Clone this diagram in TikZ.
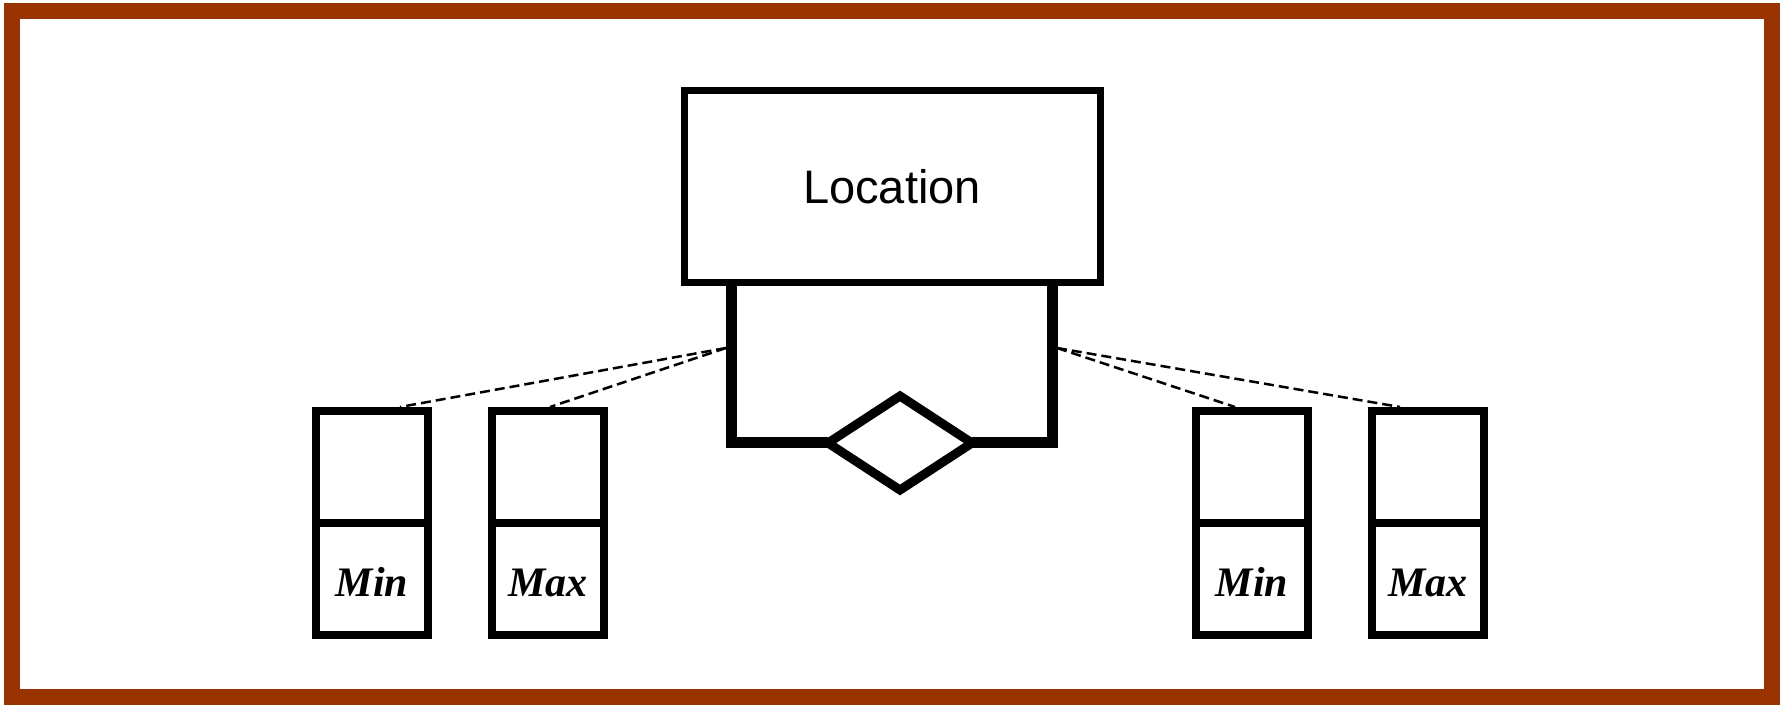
\documentclass[tikz,border=0pt]{standalone}
\usepackage{fontspec}
\setmainfont{Liberation Serif}
\newfontfamily\locfont{Liberation Sans}
\usetikzlibrary{positioning,shapes.geometric,calc}
\definecolor{framebrown}{RGB}{153,51,0}

\begin{document}
\begin{tikzpicture}[x=1pt,y=1pt,
    entity/.style={draw,line width=7pt,minimum width=416pt,minimum height=192pt,inner sep=0pt,
      font=\locfont\fontsize{47}{50}\selectfont},
    relship/.style={diamond,draw,line width=9pt,minimum width=144pt,minimum height=94pt,
      inner sep=0pt,outer sep=0pt},
    cell/.style={draw,line width=8pt,minimum size=112pt,inner sep=0pt,outer sep=0pt,
      text height=36pt,text depth=0pt,font=\fontsize{42}{44}\selectfont\bfseries\itshape},
    link/.style={line width=11pt},
    dep/.style={dash pattern=on 10pt off 5pt,line width=2.5pt}]
  \useasboundingbox (0,0) rectangle (1787,704);
  \draw[framebrown,line width=16pt] (12,7) rectangle (1772,693);

  \node[entity] (loc) at (892,517) {Location};
  \node[relship] (rel) at (900,261) {};

  \coordinate (l1) at (731.7,421);
  \coordinate (l2) at (1052,421);
  \draw[link] (l1) |- (rel.west);
  \draw[link] (l2) |- (rel.east);

  \node[cell] (t1) at (372,237) {};
  \node[cell,below=0pt of t1] (b1) {Min};
  \node[cell,right=64pt of t1] (t2) {};
  \node[cell,below=0pt of t2] (b2) {Max};
  \node[cell] (t3) at (1252,237) {};
  \node[cell,below=0pt of t3] (b3) {Min};
  \node[cell,right=64pt of t3] (t4) {};
  \node[cell,below=0pt of t4] (b4) {Max};

  \coordinate (dl) at (726,356);
  \coordinate (dr) at (1057,356);
  \draw[dep] (dl) -- ($(t1.north)+(28,4)$);
  \draw[dep] (dl) -- ($(t2.north)+(2,4)$);
  \draw[dep] (dr) -- ($(t3.north)+(-17,4)$);
  \draw[dep] (dr) -- ($(t4.north)+(-28,4)$);
\end{tikzpicture}
\end{document}
